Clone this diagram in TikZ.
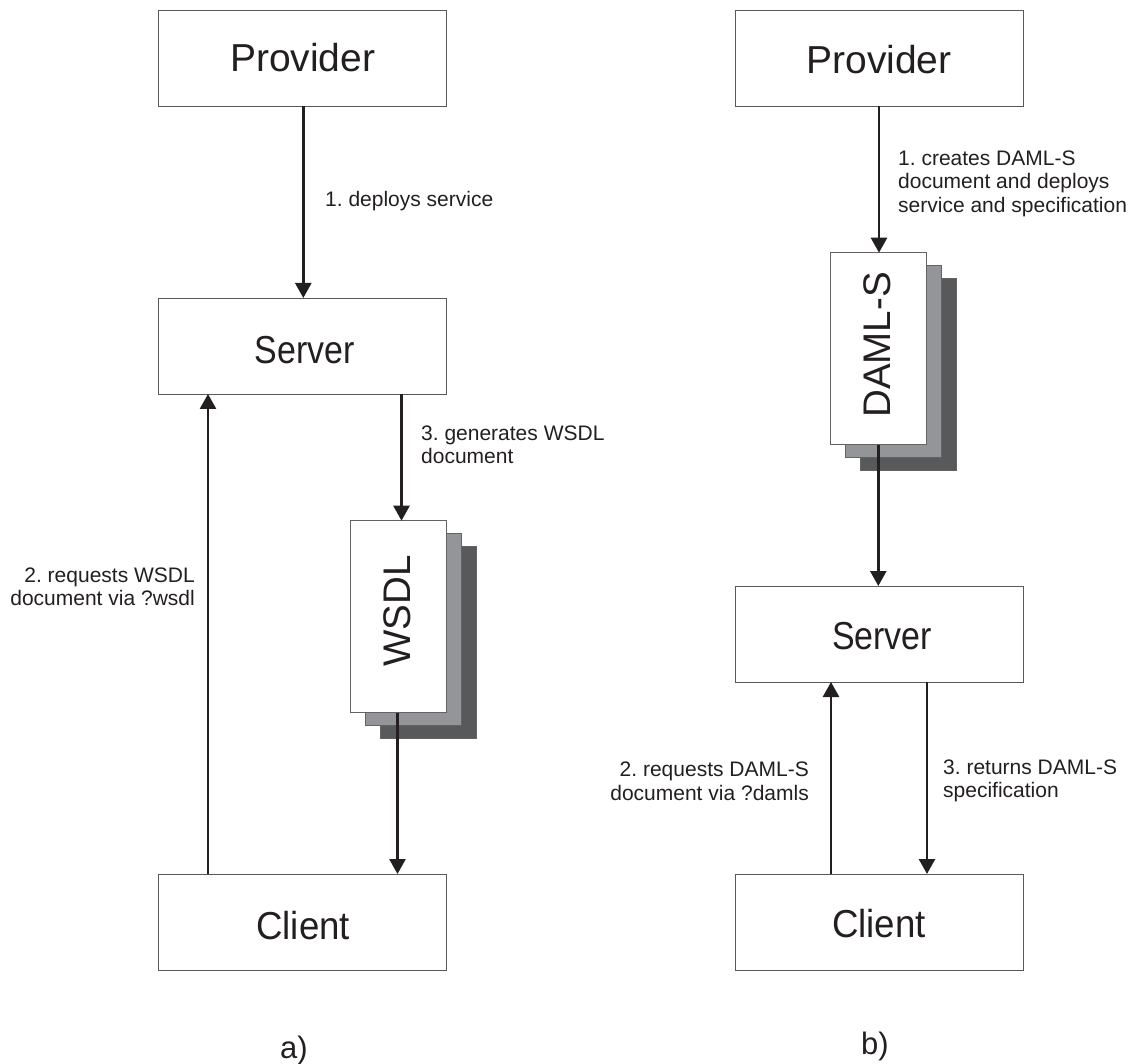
\documentclass[tikz,border=0pt]{standalone}
\usepackage{fontspec}
\usepackage{graphicx}
\setmainfont{Liberation Sans}
\usetikzlibrary{arrows.meta}
\frenchspacing
\definecolor{ink}{HTML}{231F20}
\definecolor{edge}{HTML}{58595B}
\definecolor{midgray}{HTML}{939598}
\definecolor{darkgray}{HTML}{58595B}
\newcommand{\pxfont}[1]{\fontsize{#1}{#1}\selectfont}
\tikzset{x=1pt,y=-1pt,
 box/.style={draw=edge,line width=0.9pt,fill=white,inner sep=0pt,outer sep=0pt,anchor=north west,text=ink,
   minimum width=288pt,minimum height=96pt,text depth=0pt},
 sheet/.style={draw=ink!70,line width=0.9pt,fill=white,inner sep=0pt,outer sep=0pt,anchor=north west,
   minimum width=96pt,minimum height=192pt},
 conn/.style={line width=2.6pt,draw=ink,-{Triangle[length=15pt,width=16pt,fill=ink]}},
 lab/.style={inner sep=0pt,anchor=west,align=left,text=ink,font=\fontsize{21}{23.5}\selectfont},
 bignm/.style={font=\pxfont{39}},
 tag/.style={inner sep=0pt,text=ink,font=\pxfont{31}},
 sheettext/.style={inner sep=0pt,rotate=90,text=ink,font=\pxfont{38.5}},
}
\newcommand{\srv}{\scalebox{.87}[1]{Server}}
\newcommand{\cln}{\scalebox{.94}[1]{Client}}
\begin{document}
\begin{tikzpicture}
\useasboundingbox (0,0) rectangle (1133,1064);
\node[box,bignm,text height=27.5pt] (p1) at (158.7,10) {Provider};
\node[box,bignm,text height=35pt] (s1) at (158.7,298) {\hspace*{4pt}\srv};
\node[box,bignm,text height=34pt] (c1) at (158.7,874) {\hspace*{1pt}\cln};
\node[box,bignm,text height=32pt] (p2) at (735,10) {Provider};
\node[box,bignm,text height=30pt] (s2) at (735,586) {\hspace*{6pt}\srv};
\node[box,bignm,text height=31.5pt] (c2) at (735,874) {\cln};
% WSDL stack
\node[sheet,fill=darkgray] (w3) at (380.7,546.5) {};
\node[sheet,fill=midgray] (w2) at (365.7,533.7) {};
\node[sheet] (w1) at (350.7,520.7) {};
\node[sheettext] (wt) at (397,611) {WSDL};
% DAML stack
\node[sheet,fill=darkgray] (d3) at (860.7,278.7) {};
\node[sheet,fill=midgray] (d2) at (845.7,265.7) {};
\node[sheet] (d1) at (830.7,252.7) {};
\node[sheettext] (dt) at (877,345) {DAML-S};
% connectors
\draw[conn] (303.3,0 |- p1.south) -- (303.3,0 |- s1.north);
\draw[conn] (208,0 |- c1.north) -- (208,0 |- s1.south);
\draw[conn] (401.5,0 |- s1.south) -- (401.5,0 |- w1.north);
\draw[conn] (397.5,0 |- w1.south) -- (397.5,0 |- c1.north);
\draw[conn] (879,0 |- p2.south) -- (879,0 |- d1.north);
\draw[conn] (878.3,0 |- d1.south) -- (878.3,0 |- s2.north);
\draw[conn] (831,0 |- c2.north) -- (831,0 |- s2.south);
\draw[conn] (927,0 |- s2.south) -- (927,0 |- c2.north);
% labels
\node[lab] (l1) at (325,201.5) {1. deploys service};
\node[lab] (l2) at (421,445) {3. generates WSDL\\document};
\node[lab,align=right,anchor=east] (l3) at (195,587) {2. requests WSDL\\document via ?wsdl};
\node[lab] (l4) at (898,183.5) {1. creates DAML-S\\document and deploys\\service and specification};
\node[lab,align=right,anchor=east] (l5) at (809,781.5) {2. requests DAML-S\\document via ?damls};
\node[lab] (l6) at (943,781) {3. returns DAML-S\\specification};
\node[tag] (a) at (294,1050) {a)};
\node[tag] (b) at (875,1046) {b)};
\end{tikzpicture}
\end{document}
